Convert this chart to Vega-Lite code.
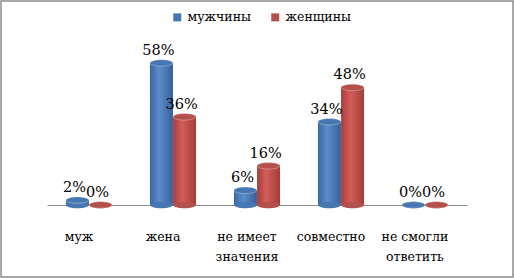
{
  "$schema": "https://vega.github.io/schema/vega-lite/v6.json",
  "width": 512,
  "height": 276,
  "autosize": "none",
  "padding": 1,
  "background": "white",
  "config": {
    "view": {"stroke": "#8c8c8c", "strokeWidth": 1.5},
    "font": "DejaVu Serif",
    "axis": {"labelFont": "DejaVu Serif"},
    "legend": {"labelFont": "DejaVu Serif"}
  },
  "data": {
    "values": [
      {"cat": "муж", "series": "мужчины", "value": 2},
      {"cat": "муж", "series": "женщины", "value": 0},
      {"cat": "жена", "series": "мужчины", "value": 58},
      {"cat": "жена", "series": "женщины", "value": 36},
      {"cat": "не имеет|значения", "series": "мужчины", "value": 6},
      {"cat": "не имеет|значения", "series": "женщины", "value": 16},
      {"cat": "совместно", "series": "мужчины", "value": 34},
      {"cat": "совместно", "series": "женщины", "value": 48},
      {"cat": "не смогли|ответить", "series": "мужчины", "value": 0},
      {"cat": "не смогли|ответить", "series": "женщины", "value": 0}
    ]
  },
  "encoding": {
    "x": {
      "field": "cat", "type": "nominal", "sort": null,
      "scale": {"range": [46, 466], "paddingInner": 0.45, "paddingOuter": 0.225},
      "axis": {
        "title": null, "orient": "bottom", "offset": -72,
        "labelExpr": "split(datum.label, '|')",
        "labelAngle": 0, "labelFontSize": 12.5, "labelColor": "black", "labelOffset": -10,
        "labelPadding": 25, "labelLineHeight": 20, "labelBaseline": "top",
        "ticks": false, "domainColor": "#8c8c8c", "domainWidth": 1
      }
    },
    "xOffset": {"field": "series", "type": "nominal", "scale": {"domain": ["мужчины", "женщины"]}},
    "y": {
      "field": "value", "type": "quantitative",
      "scale": {"domain": [-29.4, 83.3], "nice": false, "zero": false},
      "axis": null
    }
  },
  "layer": [
    {
      "transform": [{"filter": "datum.series == 'мужчины'"}],
      "mark": {"type": "bar", "width": 23, "color": {"gradient": "linear", "x1": 0, "x2": 1, "y1": 0, "y2": 0, "stops": [{"offset": 0, "color": "#3b67a0"}, {"offset": 0.4, "color": "#5b8dcb"}, {"offset": 1, "color": "#36609a"}]}},
      "encoding": {"y2": {"datum": 0}}
    },
    {
      "transform": [{"filter": "datum.series == 'женщины'"}],
      "mark": {"type": "bar", "width": 23, "color": {"gradient": "linear", "x1": 0, "x2": 1, "y1": 0, "y2": 0, "stops": [{"offset": 0, "color": "#a53e3b"}, {"offset": 0.4, "color": "#d35d59"}, {"offset": 1, "color": "#a23c39"}]}},
      "encoding": {"y2": {"datum": 0}}
    },
    {
      "mark": {"type": "point", "filled": true, "shape": "M -1 0 A 1 0.28 0 1 0 1 0 A 1 0.28 0 1 0 -1 0 Z", "size": 529, "opacity": 1},
      "encoding": {
        "y": {"datum": 0},
        "color": {
          "field": "series", "type": "nominal", "sort": ["мужчины", "женщины"],
          "scale": {"domain": ["мужчины", "женщины"], "range": ["#4677b3", "#b4504c"]},
          "legend": {
            "title": null, "orient": "none", "direction": "horizontal",
            "legendX": 170, "legendY": 10, "symbolType": "square", "symbolSize": 64,
            "labelFontSize": 12.5, "labelColor": "black", "columnPadding": 18, "symbolStrokeWidth": 0,
            "symbolOpacity": 1, "labelFont": "DejaVu Serif", "labelOffset": 4
          }
        }
      }
    },
    {
      "mark": {"type": "point", "filled": true, "shape": "M -1 0 A 1 0.28 0 1 0 1 0 A 1 0.28 0 1 0 -1 0 Z", "size": 529, "opacity": 1, "stroke": "white", "strokeOpacity": 0.3, "strokeWidth": 1},
      "encoding": {
        "color": {"field": "series", "type": "nominal", "scale": {"domain": ["мужчины", "женщины"], "range": ["#4677b3", "#b4504c"]}, "legend": null}
      }
    },
    {
      "mark": {"type": "text", "dy": -12, "dx": -3, "fontSize": 14.5, "color": "black", "font": "DejaVu Serif", "text": {"expr": "datum.value + '%'"}}
    }
  ]
}
